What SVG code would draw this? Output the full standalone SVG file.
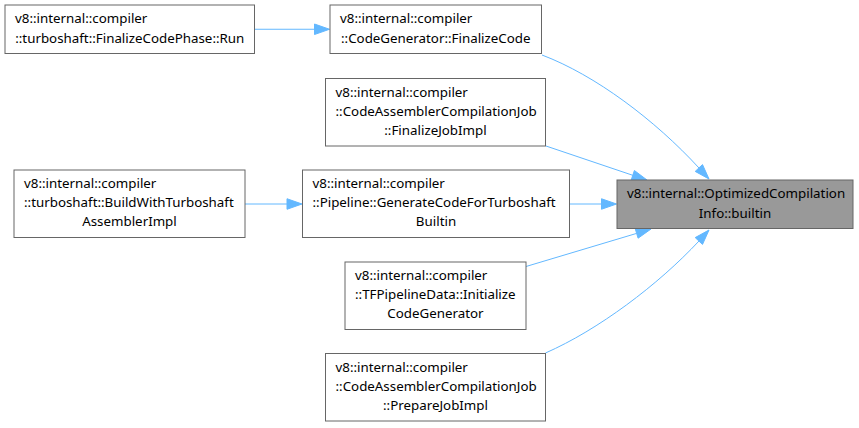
<svg xmlns="http://www.w3.org/2000/svg" width="859" height="428" viewBox="0 0 859 428">
<style>
  .box { fill: #ffffff; stroke: #666666; stroke-width: 1; }
  .focus { fill: #999999; stroke: #666666; stroke-width: 1; }
  text { font-family: "Noto Sans", "Open Sans", sans-serif; font-size: 13.33px; fill: #000000; }
  .m { text-anchor: middle; }
  .edge { fill: none; stroke: #63b8ff; stroke-width: 1; }
  .head { fill: #63b8ff; stroke: #63b8ff; stroke-width: 1; }
</style>
<rect width="859" height="428" fill="#ffffff"/>
<g id="connectors">
  <path class="edge" d="M254.5,29.25 L314.5,29.25"/>
  <polygon class="head" points="314.5,24 329.5,29.25 314.5,34.5"/>
  <path class="edge" d="M245,204 L287,204"/>
  <polygon class="head" points="287,198.75 302,204 287,209.25"/>
  <path class="edge" d="M569.5,204 L601.5,204"/>
  <polygon class="head" points="601.5,198.75 616.5,204 601.5,209.25"/>
  <path class="edge" d="M542,55 C595,75 655,120 699,168"/>
  <polygon class="head" points="702.5,164.6 709,179 695.2,171.4"/>
  <path class="edge" d="M546,146 L632.8,175.3"/>
  <polygon class="head" points="634.4,170.5 647,180 631.2,180"/>
  <path class="edge" d="M526,266.5 L636.6,233.4"/>
  <polygon class="head" points="638.1,238.2 651,229 635.2,228.6"/>
  <path class="edge" d="M545.5,353 C598,330 658,285 699,241"/>
  <polygon class="head" points="702.5,244.4 709,230 695.2,237.6"/>
</g>
<g id="node_A">
  <rect class="box" x="5" y="5" width="249.5" height="48.5"/>
  <text x="15" y="23">v8::internal::compiler</text>
  <text class="m" x="129.75" y="42.5">::turboshaft::FinalizeCodePhase::Run</text>
</g>
<g id="node_B">
  <rect class="box" x="330" y="5" width="211.5" height="48.5"/>
  <text x="340" y="23">v8::internal::compiler</text>
  <text class="m" x="435.75" y="42.5">::CodeGenerator::FinalizeCode</text>
</g>
<g id="node_C">
  <rect class="box" x="325.5" y="78.5" width="220" height="67.5"/>
  <text x="335.5" y="96.5">v8::internal::compiler</text>
  <text x="335.5" y="115.5">::CodeAssemblerCompilationJob</text>
  <text class="m" x="435.5" y="134.5">::FinalizeJobImpl</text>
</g>
<g id="node_D">
  <rect class="box" x="14" y="170" width="231" height="67.5"/>
  <text x="24" y="188">v8::internal::compiler</text>
  <text x="24" y="207">::turboshaft::BuildWithTurboshaft</text>
  <text class="m" x="129.5" y="226">AssemblerImpl</text>
</g>
<g id="node_E">
  <rect class="box" x="302.5" y="170" width="267" height="67.5"/>
  <text x="312.5" y="188">v8::internal::compiler</text>
  <text x="312.5" y="207">::Pipeline::GenerateCodeForTurboshaft</text>
  <text class="m" x="436" y="226">Builtin</text>
</g>
<g id="node_F">
  <rect class="box" x="345" y="262" width="181" height="67.5"/>
  <text x="355" y="280">v8::internal::compiler</text>
  <text x="355" y="299">::TFPipelineData::Initialize</text>
  <text class="m" x="435.5" y="318">CodeGenerator</text>
</g>
<g id="node_G">
  <rect class="box" x="325.5" y="353.5" width="220" height="67.5"/>
  <text x="335.5" y="371.5">v8::internal::compiler</text>
  <text x="335.5" y="390.5">::CodeAssemblerCompilationJob</text>
  <text class="m" x="435.5" y="409.5">::PrepareJobImpl</text>
</g>
<g id="node_target">
  <rect class="focus" x="617" y="180" width="236" height="48.5"/>
  <text x="627" y="198">v8::internal::OptimizedCompilation</text>
  <text class="m" x="735" y="217.5">Info::builtin</text>
</g>
</svg>
